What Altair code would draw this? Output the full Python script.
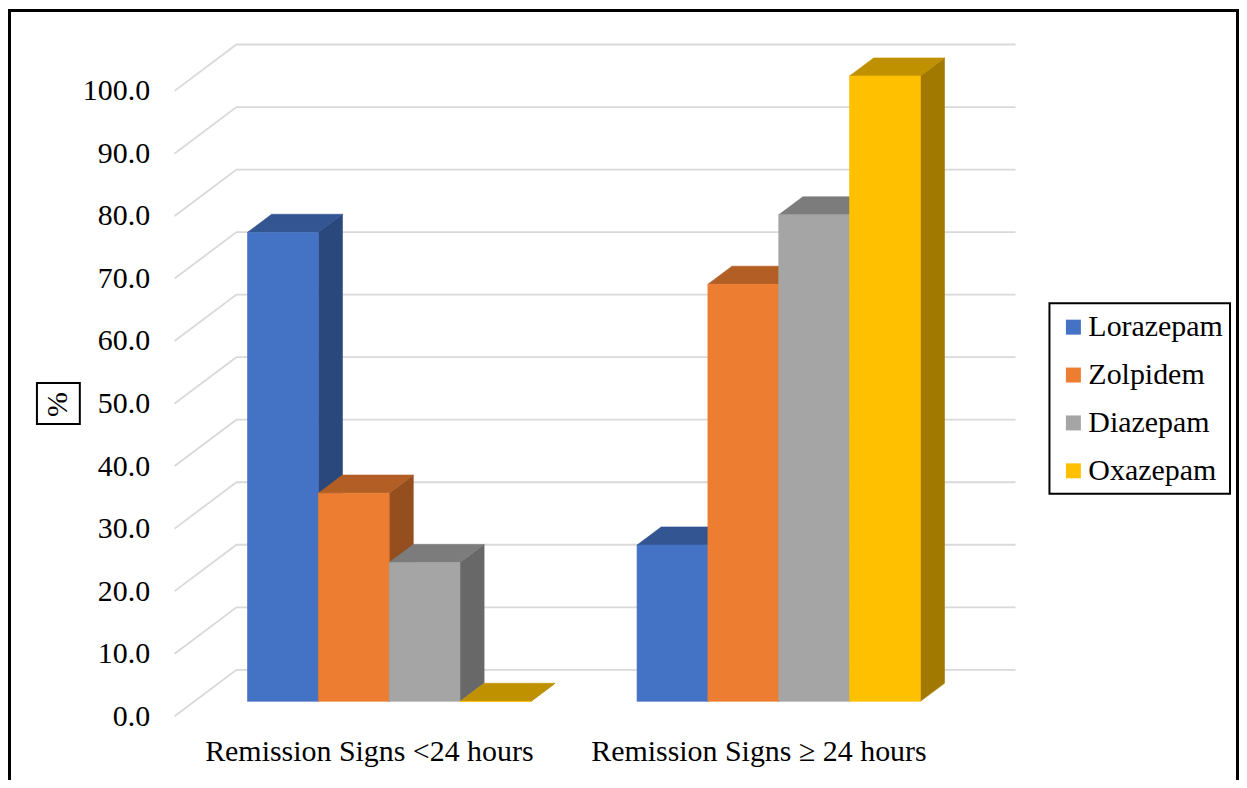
import altair as alt
import pandas as pd

# ---------------- data ----------------
categories = ["Remission Signs <24 hours", "Remission Signs \u2265 24 hours"]
series = ["Lorazepam", "\u00a0Zolpidem", "Diazepam", "Oxazepam"]
lorazepam = [75.0, 25.0]
zolpidem = [33.3, 66.7]
diazepam = [22.2, 77.8]
oxazepam = [0.0, 100.0]
y_ticks = [0, 10, 20, 30, 40, 50, 60, 70, 80, 90, 100]

# ---------------- styles ----------------
front_colors = ["#4472C4", "#ED7D31", "#A5A5A5", "#FFC000"]
top_colors = ["#335693", "#B25E25", "#7C7C7C", "#BF9000"]
side_colors = ["#2B487C", "#954F1F", "#686868", "#A17900"]
FONT = "Liberation Serif"
FS = 30

# layout geometry (pixels / value units)
W, H = 1060, 677
Y_MAX = 108.0
PX = H / Y_MAX
FLOOR_W = 781.0
DEPTH_X = 62.0
DEPTH_Y = 46.5 / PX
GAP = 1.5
BAR_FRONT = 0.32
BAR_DEPTH = 0.39

values = [lorazepam, zolpidem, diazepam, oxazepam]
n_cat, n_ser = len(categories), len(series)
band = FLOOR_W / n_cat
bw = band / (n_ser + GAP)
sx, sy = BAR_FRONT * DEPTH_X, BAR_FRONT * DEPTH_Y
ddx, ddy = BAR_DEPTH * DEPTH_X, BAR_DEPTH * DEPTH_Y

front_rows, top_rows, side_rows = [], [], []
for ci in range(n_cat):
    start = ci * band + (band - n_ser * bw) / 2 + sx
    for si in range(n_ser):
        v = values[si][ci]
        x0 = start + si * bw
        x1 = x0 + bw
        b, t = sy, v + sy
        key = f"{ci}-{si}"
        front_rows.append(dict(series=series[si], x=x0, x2=x1, y=b, y2=t))
        for xx, ya, yb in [(x0, t, t), (x0 + ddx, t, t + ddy),
                           (x1, t, t + ddy), (x1 + ddx, t + ddy, t + ddy)]:
            top_rows.append(dict(key=key, col=top_colors[si], x=xx, y=ya, y2=yb))
        for xx, ya, yb in [(x1, b, t), (x1 + ddx, b + ddy, t + ddy)]:
            side_rows.append(dict(key=key, col=side_colors[si], x=xx, y=ya, y2=yb))

grid_rows = []
for tk in y_ticks:
    for o, (xx, yy) in enumerate([(0, tk), (DEPTH_X, tk + DEPTH_Y),
                                  (FLOOR_W + DEPTH_X, tk + DEPTH_Y)]):
        grid_rows.append(dict(tick=tk, o=o, x=xx, y=yy))

cat_rows = [dict(label=c, x=i * band + band / 2, y=0.0) for i, c in enumerate(categories)]

front_df = pd.DataFrame(front_rows)
top_df = pd.DataFrame(top_rows)
side_df = pd.DataFrame(side_rows)
grid_df = pd.DataFrame(grid_rows)
cat_df = pd.DataFrame(cat_rows)
one = pd.DataFrame({"a": [0]})

# ---------------- scales / axes ----------------
xs = alt.Scale(domain=[0, W], nice=False, zero=False)
ys = alt.Scale(domain=[0, Y_MAX], nice=False, zero=False)
y_axis = alt.Axis(values=y_ticks, format=".1f", grid=False, domain=False, ticks=False,
                  labelFont=FONT, labelFontSize=FS, labelColor="#000000", labelPadding=25,
                  title="%", titleFont=FONT, titleFontSize=FS, titleFontWeight="normal",
                  titleColor="#000000", titleAngle=270, titleX=-117, titleY=364,
                  titleAlign="center", titleBaseline="middle")

X = lambda: alt.X("x:Q", scale=xs, axis=None)
Y = lambda: alt.Y("y:Q", scale=ys, axis=y_axis, stack=None)

frame = alt.Chart(one).mark_rect(fillOpacity=0, stroke="black", strokeWidth=3).encode(
    x=alt.value(-165.5), x2=alt.value(W + 5.5), y=alt.value(-30.5), y2=alt.value(H + 90))

grid = alt.Chart(grid_df).mark_line(color="#D9D9D9", strokeWidth=1.8).encode(
    x=X(), y=Y(), detail="tick:N", order=alt.Order("o:Q"))

sides = alt.Chart(side_df).mark_area(strokeWidth=0.6, interpolate="linear").encode(
    x=X(), y=Y(), y2="y2:Q", detail="key:N",
    color=alt.Color("col:N", scale=None), stroke=alt.Stroke("col:N", scale=None))

tops = alt.Chart(top_df).mark_area(strokeWidth=0.6, interpolate="linear").encode(
    x=X(), y=Y(), y2="y2:Q", detail="key:N",
    color=alt.Color("col:N", scale=None), stroke=alt.Stroke("col:N", scale=None))

fronts = alt.Chart(front_df).mark_rect(strokeWidth=0.6).encode(
    x=X(), x2="x2:Q", y=Y(), y2="y2:Q",
    color=alt.Color("series:N", sort=series,
                    scale=alt.Scale(domain=series, range=front_colors),
                    legend=alt.Legend(title=None, orient="none", legendX=872, legendY=260,
                                      symbolType="square", symbolSize=225, symbolStrokeWidth=0,
                                      symbolOffset=2, labelFont=FONT, labelFontSize=FS,
                                      labelColor="#000000", labelOffset=0, rowPadding=18,
                                      padding=12, labelLimit=300)),
    stroke=alt.Stroke("series:N", scale=alt.Scale(domain=series, range=front_colors), legend=None))

legend_box = alt.Chart(one).mark_rect(fillOpacity=0, stroke="black", strokeWidth=2).encode(
    x=alt.value(877), x2=alt.value(1058), y=alt.value(263), y2=alt.value(454))

cat_text = alt.Chart(cat_df).mark_text(font=FONT, fontSize=FS, color="#000000",
                                       align="center", baseline="middle", dy=36).encode(
    x=X(), y=Y(), text="label:N")

pct_box = alt.Chart(one).mark_rect(fillOpacity=0, stroke="black", strokeWidth=2).encode(
    x=alt.value(-138), x2=alt.value(-95), y=alt.value(343), y2=alt.value(384))

chart = alt.layer(frame, grid, sides, tops, fronts, legend_box, cat_text, pct_box).properties(
    width=W, height=H,
    autosize=alt.AutoSizeParams(type="none"),
    padding={"left": 167, "top": 32, "right": 7, "bottom": 63},
    background="white",
).configure_view(stroke=None)

chart.save("out.html", embed_options={"renderer": "svg", "actions": False})
